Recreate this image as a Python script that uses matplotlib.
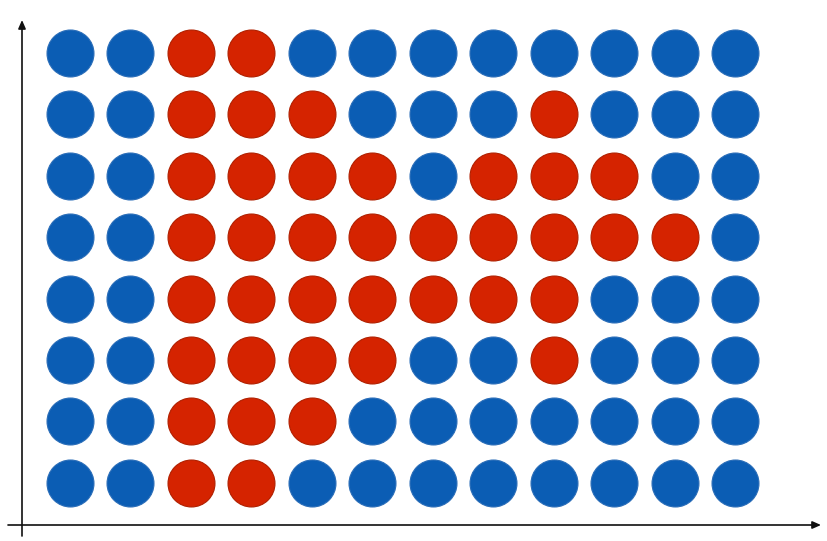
import matplotlib
matplotlib.use("Agg")
import matplotlib.pyplot as plt
import numpy as np

# Grid of categories (top row first): 1 = red, 0 = blue
row1 = [0, 0, 1, 1, 0, 0, 0, 0, 0, 0, 0, 0]
row2 = [0, 0, 1, 1, 1, 0, 0, 0, 1, 0, 0, 0]
row3 = [0, 0, 1, 1, 1, 1, 0, 1, 1, 1, 0, 0]
row4 = [0, 0, 1, 1, 1, 1, 1, 1, 1, 1, 1, 0]
row5 = [0, 0, 1, 1, 1, 1, 1, 1, 1, 0, 0, 0]
row6 = [0, 0, 1, 1, 1, 1, 0, 0, 1, 0, 0, 0]
row7 = [0, 0, 1, 1, 1, 0, 0, 0, 0, 0, 0, 0]
row8 = [0, 0, 1, 1, 0, 0, 0, 0, 0, 0, 0, 0]
grid = np.array([row1, row2, row3, row4, row5, row6, row7, row8])

blue = "#0B5DB4"
red = "#D52300"
blue_edge = "#2A6DB8"
red_edge = "#B02000"

fig = plt.figure(figsize=(8.28, 5.41), dpi=100)
ax = fig.add_axes([0, 0, 1, 1])
ax.set_xlim(-1.158, 12.539)
ax.set_ylim(7.948, -0.863)
ax.axis("off")

nrows, ncols = grid.shape
rr, cc = np.meshgrid(np.arange(nrows), np.arange(ncols), indexing="ij")
vals = grid.ravel()
xs = cc.ravel()
ys = rr.ravel()
size = 33.8 ** 2
ax.scatter(xs[vals == 0], ys[vals == 0], s=size, c=blue, edgecolors=blue_edge, linewidths=0.8, zorder=3)
ax.scatter(xs[vals == 1], ys[vals == 1], s=size, c=red, edgecolors=red_edge, linewidths=0.8, zorder=3)

arrow = dict(arrowstyle="-|>,head_length=0.5,head_width=0.22", color="#111111", lw=1.2,
             shrinkA=0, shrinkB=0)
# y axis
ax.annotate("", xy=(22 / 828, 1 - 20 / 541), xytext=(22 / 828, 1 - 536 / 541),
            xycoords="axes fraction", textcoords="axes fraction", arrowprops=arrow)
# x axis
ax.annotate("", xy=(821 / 828, 1 - 525 / 541), xytext=(8 / 828, 1 - 525 / 541),
            xycoords="axes fraction", textcoords="axes fraction", arrowprops=arrow)

fig.savefig("out.png", dpi=100, facecolor="white")
